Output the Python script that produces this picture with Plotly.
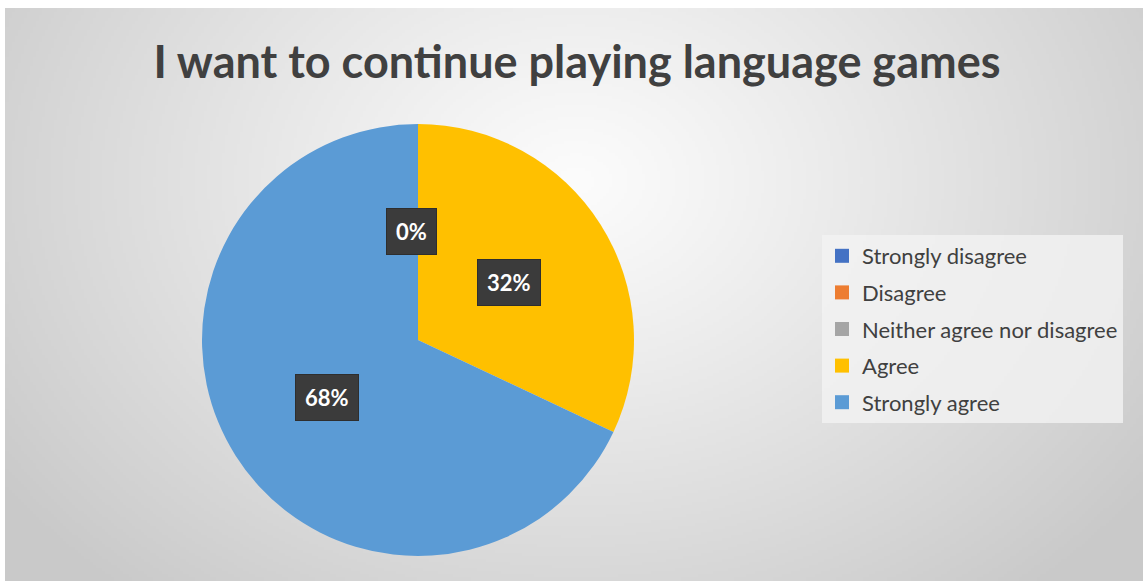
import base64, struct, zlib, math
import numpy as np
import plotly.graph_objects as go

# ---- data ----
categories = ["Strongly disagree", "Disagree", "Neither agree nor disagree", "Agree", "Strongly agree"]
values = [0, 0, 0, 32, 68]
colors = ["#4472C4", "#ED7D31", "#A5A5A5", "#FFC000", "#5B9BD5"]
title_text = "I want to continue playing language games"

W, H = 1143, 581

# ---- radial gradient background as PNG ----
def make_png(arr):
    h, w, _ = arr.shape
    raw = b"".join(b"\x00" + arr[i].tobytes() for i in range(h))
    def chunk(t, d):
        c = struct.pack(">I", len(d)) + t + d
        return c + struct.pack(">I", zlib.crc32(t + d) & 0xffffffff)
    png = b"\x89PNG\r\n\x1a\n" + chunk(b"IHDR", struct.pack(">IIBBBBB", w, h, 8, 2, 0, 0, 0))
    png += chunk(b"IDAT", zlib.compress(raw, 9)) + chunk(b"IEND", b"")
    return "data:image/png;base64," + base64.b64encode(png).decode()

gw, gh = 380, 191
yy, xx = np.mgrid[0:gh, 0:gw]
cx, cy = gw * 0.50, gh * 0.30
d = np.sqrt(((xx - cx) / (gw * 0.62)) ** 2 + ((yy - cy) / (gh * 0.95)) ** 2)
d = np.clip(d, 0, 1)
inner, outer = 252.0, 201.0
v = inner + (outer - inner) * d ** 1.1
img = np.stack([v, v, v], axis=-1).astype(np.uint8)
bg_src = make_png(img)

fig = go.Figure()

cxp, cyp = 418 / W, 1 - 340 / H
half_w = 216 / W
half_h = 216 / H

fig.add_trace(go.Pie(
    labels=categories, values=values, sort=False, direction="clockwise", rotation=0,
    marker=dict(colors=colors, line=dict(width=0)),
    textinfo="none", hoverinfo="label+percent", showlegend=False,
    domain=dict(x=[cxp - half_w, cxp + half_w], y=[cyp - half_h, cyp + half_h]),
))

# legend entries (one per category)
for cat, col in zip(categories, colors):
    fig.add_trace(go.Scatter(
        x=[None], y=[None], mode="markers", name=cat, legendgroup=cat,
        marker=dict(symbol="square", size=14, color=col), hoverinfo="skip",
    ))

# data labels computed from values
total = sum(values)
annotations = []
cum = 0
shown_zero = False
for lab, val in zip(categories, values):
    frac = val / total
    mid = (cum + frac / 2) * 2 * math.pi
    cum += frac
    if val == 0:
        if shown_zero:
            continue
        shown_zero = True
    r = 0.5
    ax = cxp + r * half_w * math.sin(mid) - (7 / W if val == 0 else 0)
    ay = cyp + r * half_h * math.cos(mid)
    annotations.append(dict(
        x=ax, y=ay, xref="paper", yref="paper", showarrow=False,
        xanchor="center", yanchor="middle", text="<b>%d%%</b>" % round(frac * 100),
        borderpad=9, borderwidth=1, bordercolor="#2e2e2e", bgcolor="#3b3b3b",
        font=dict(family="Lato", size=22, color="white"),
    ))

fig.update_layout(
    width=W, height=H,
    margin=dict(l=0, r=0, t=0, b=0),
    paper_bgcolor="white",
    plot_bgcolor="rgba(0,0,0,0)",
    xaxis=dict(visible=False),
    yaxis=dict(visible=False),
    images=[dict(source=bg_src, xref="paper", yref="paper", x=5 / W, y=1 - 8 / H,
                 sizex=(W - 5) / W, sizey=(H - 8) / H, sizing="stretch",
                 xanchor="left", yanchor="top", layer="below")],
    title=dict(text="<b>" + title_text + "</b>", x=577 / W, xanchor="center",
               y=1 - 62 / H, yanchor="middle",
               font=dict(family="Lato", size=45, color="#404040")),
    legend=dict(x=822 / W, y=1 - 235 / H, xanchor="left", yanchor="top",
                bgcolor="rgba(242,242,242,0.8)",
                font=dict(family="Lato", size=22, color="#404040"),
                traceorder="grouped", tracegroupgap=5, itemclick=False, itemdoubleclick=False),
    annotations=annotations,
)

fig.write_html("out.html")
